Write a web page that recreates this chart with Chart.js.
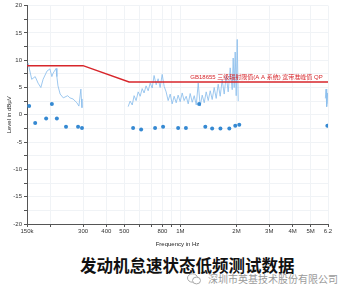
<!DOCTYPE html>
<html><head><meta charset="utf-8">
<script src="https://cdn.jsdelivr.net/npm/chart.js@4.4.1/dist/chart.umd.min.js"></script>
<style>
html,body{margin:0;padding:0;background:#fff;width:348px;height:293px;overflow:hidden;position:relative}
#c{position:absolute;left:0;top:0}
#title{position:absolute;left:80px;top:255px;font:700 16.5px/20px 'Noto Sans CJK SC',sans-serif;color:#111;white-space:nowrap}
#wm{position:absolute;left:187px;top:273px;font:400 10px/12px 'Noto Sans CJK SC',sans-serif;color:#9a9a9a;white-space:nowrap;display:flex;align-items:center;text-shadow:0 0 1px #fff}
#wm svg{margin-right:7px}
</style></head><body>
<canvas id="c" width="348" height="250"></canvas>
<div id="title">发动机怠速状态低频测试数据</div>
<div id="wm"><svg width="14" height="12" viewBox="0 0 14 12"><ellipse cx="5.5" cy="5" rx="5" ry="4.2" fill="#fff" stroke="#aaa" stroke-width="1"/><ellipse cx="9.5" cy="7.5" rx="4" ry="3.4" fill="#fff" stroke="#aaa" stroke-width="1"/></svg><span>深圳市英基技术股份有限公司</span></div>
<script>
// ---- data (frequencies in kHz, levels in dBµV) ----
const scanFreqLow  = [152,159,166,172,178,183,192,199,204,207,215,217,220,226,235,248,255,265,278,285,292,294,296];
const scanLevelLow = [9.5,6.5,7.0,5.8,5.0,6.5,8.0,8.4,7.0,7.6,8.5,7.0,5.3,3.8,3.1,3.5,3.1,2.9,2.2,1.6,4.7,2.9,1.3];

const scanFreqMid  = [524,537,551,564,578,593,608,623,638,654,671,688,705,722,741,759,778,798,818,838,859,881,903,925,949,972,997,1022,1047,1074,1101,1128,1157,1186,1216,1246,1277,1309,1342,1375,1410,1445,1481,1518,1556,1595,1635,1676,1718,1761,1805,1850,1897,1920,1944,1968,1993,2018,2043];
const scanLevelMid = [1.5,2.5,1.8,3.5,2.6,4.2,3.4,4.8,4.0,5.3,4.4,5.8,4.9,7.2,5.5,6.6,5.0,7.4,5.2,4.2,2.6,3.8,2.0,3.4,2.2,3.6,2.4,4.0,2.6,3.4,2.0,3.9,2.3,3.5,1.8,5.8,1.6,3.6,2.2,4.2,2.6,4.4,2.8,5.0,3.0,5.6,3.4,6.4,3.8,7.2,4.2,8.6,4.6,10.4,5.0,11.5,3.5,13.8,2.5];

const scanFreqHigh  = [6000,6050,6100,6150,6200];
const scanLevelHigh = [3.0,4.7,1.5,4.0,2.0];

const qpFreq  = [154,166,190,204,217,243,282,296,557,615,731,807,972,1070,1260,1360,1480,1640,1830,1970,2070,6150];
const qpLevel = [1.6,-1.5,-0.7,2.0,-0.7,-2.2,-2.2,-2.4,-2.4,-2.7,-2.4,-2.2,-2.4,-2.4,2.0,-2.2,-2.5,-2.5,-2.5,-2.0,-1.8,-2.0];

const limitFreq  = [150,300,530,6200];
const limitLevel = [9,9,6,6];
const limitLabel = 'GB18655 三级辐射限值(A A 系统) 宽带准峰值 QP';
const limitLabelFreq = 1130;

const xTickValues = [150,200,300,400,500,600,700,800,900,1000,2000,3000,4000,5000,6200];
const xTickLabels = ['150k','','300','400','500','','','800','','1M','2M','3M','4M','5M','6.2'];
const yMin = -20, yMax = 20, yStep = 2.5, yLabelStep = 5;

// ---- build ----
const kHz = 1000;
const pts = (f, l) => f.map((v, i) => ({x: v * kHz, y: l[i]}));
const scanData = [].concat(
  pts(scanFreqLow, scanLevelLow), [{x: 400 * kHz, y: null}],
  pts(scanFreqMid, scanLevelMid), [{x: 4000 * kHz, y: null}],
  pts(scanFreqHigh, scanLevelHigh));

Chart.defaults.font.family = "'Liberation Sans', Arial, 'Noto Sans CJK SC', sans-serif";

const labelPlugin = {
  id: 'limitLabel',
  afterDatasetsDraw(chart) {
    const {ctx, scales: {x, y}} = chart;
    ctx.save();
    ctx.font = "6px 'Liberation Sans', 'Noto Sans CJK SC', sans-serif";
    ctx.fillStyle = '#d7262b';
    ctx.textAlign = 'left';
    ctx.textBaseline = 'bottom';
    ctx.fillText(limitLabel, x.getPixelForValue(limitLabelFreq * kHz), y.getPixelForValue(limitLevel[limitLevel.length - 1]) - 1.5);
    ctx.restore();
  }
};

new Chart(document.getElementById('c'), {
  type: 'scatter',
  data: {
    datasets: [
      {data: pts(limitFreq, limitLevel), showLine: true, borderColor: '#d7262b', borderWidth: 1.5, pointRadius: 0, order: 0},
      {data: pts(qpFreq, qpLevel), backgroundColor: '#3589d2', borderWidth: 0, pointRadius: 2, order: 1},
      {data: scanData, showLine: true, spanGaps: false, borderColor: 'rgba(140,190,236,0.85)', borderWidth: 1, pointRadius: 0, tension: 0, order: 2}
    ]
  },
  options: {
    responsive: false,
    animation: false,
    layout: {padding: {left: 0, right: 20, top: 4, bottom: 0}},
    plugins: {legend: {display: false}, tooltip: {enabled: false}},
    scales: {
      x: {
        type: 'logarithmic', min: 150 * kHz, max: 6200 * kHz,
        afterBuildTicks: s => { s.ticks = xTickValues.map(v => ({value: v * kHz})); },
        afterFit: s => { s.height = 26; },
        ticks: {autoSkip: false, maxRotation: 0, minRotation: 0, padding: 1, color: '#333', font: {size: 6},
                callback: (v, i) => xTickLabels[i]},
        grid: {color: '#f0f3f6', tickColor: '#555', tickLength: 3},
        border: {color: '#555'},
        title: {display: true, text: 'Frequency in Hz', color: '#222', font: {size: 6}, padding: {top: 0, bottom: 2}}
      },
      y: {
        min: yMin, max: yMax,
        afterFit: s => { s.width = 27; },
        ticks: {stepSize: yStep, autoSkip: false, padding: 2, color: '#333', font: {size: 6},
                callback: v => (v % yLabelStep === 0 ? String(v) : '')},
        grid: {color: '#f0f3f6', tickColor: '#555', tickLength: 3},
        border: {color: '#555'},
        title: {display: true, text: 'Level in dBµV', color: '#222', font: {size: 6}, padding: {top: 6, bottom: 0}}
      }
    }
  },
  plugins: [labelPlugin]
});
</script>
</body></html>
